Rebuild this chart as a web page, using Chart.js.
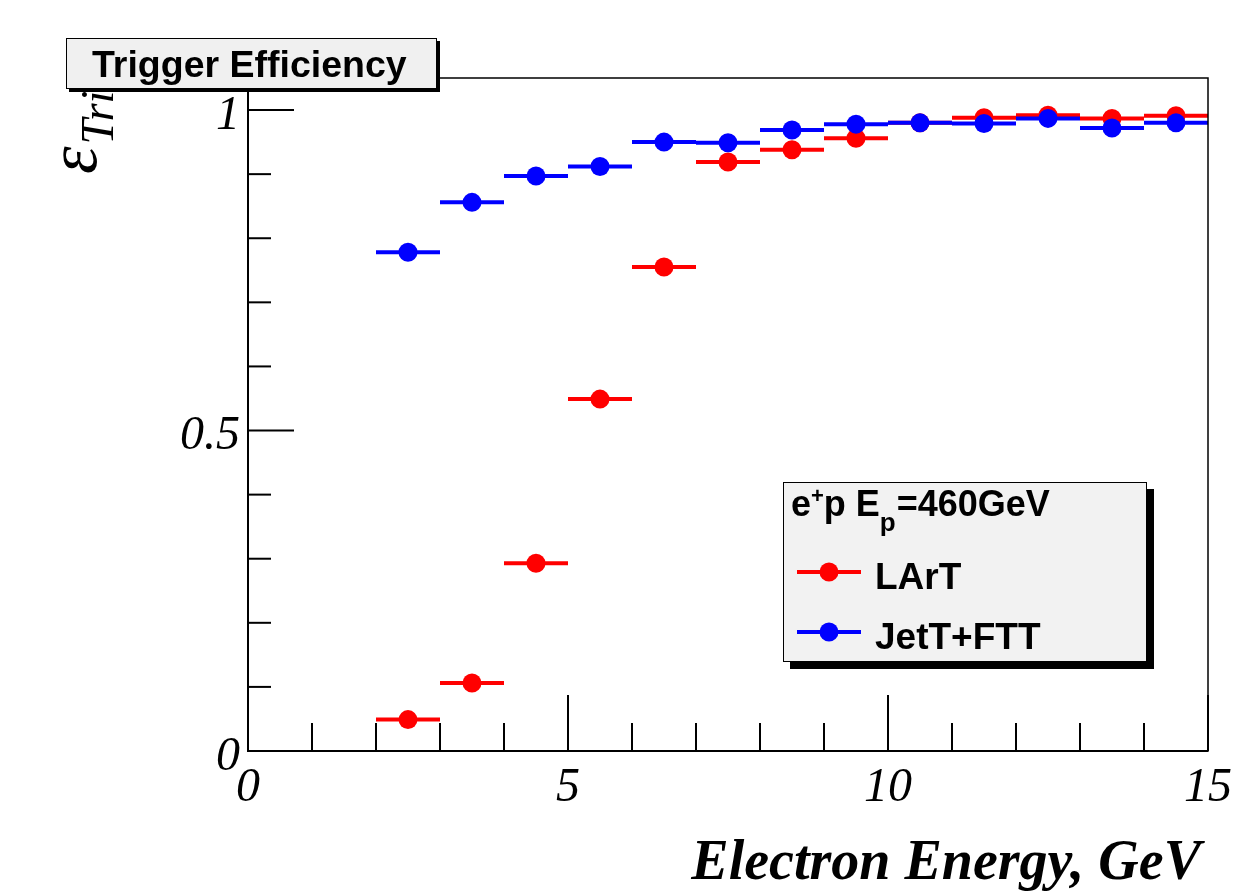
<!DOCTYPE html>
<html>
<head>
<meta charset="utf-8">
<script src="https://cdn.jsdelivr.net/npm/chart.js@4.4.1/dist/chart.umd.min.js"></script>
<style>
  html, body { margin: 0; padding: 0; background: #fff; }
  #wrap { width: 1235px; height: 895px; }
</style>
</head>
<body>
<div id="wrap"><canvas id="effChart" width="1235" height="895"></canvas></div>
<script>
// bin centres (GeV) and half bin width used for the horizontal error bars
const binCenters = [2.5, 3.5, 4.5, 5.5, 6.5, 7.5, 8.5, 9.5, 10.5, 11.5, 12.5, 13.5, 14.5];
const binHalfWidth = 0.5;
// trigger efficiencies
const lartEff = [0.049, 0.106, 0.293, 0.549, 0.755, 0.919, 0.938, 0.956, 0.980, 0.988, 0.992, 0.987, 0.991];
const jetEff  = [0.778, 0.856, 0.897, 0.912, 0.950, 0.949, 0.969, 0.978, 0.980, 0.979, 0.987, 0.972, 0.980];
const seriesNames = ['LArT', 'JetT+FTT'];
const seriesColors = ['#ff0000', '#0000ff'];
const xTickLabels = [0, 5, 10, 15];
const yTickLabels = [0, 0.5, 1];

function pointsOf(vals) {
    return binCenters.map(function (x, i) { return {x: x, y: vals[i]}; });
}
// horizontal error bars as broken line segments (null y breaks the line)
function barsOf(vals) {
    var out = [];
    binCenters.forEach(function (x, i) {
        out.push({x: x - binHalfWidth, y: vals[i]});
        out.push({x: x + binHalfWidth, y: vals[i]});
        out.push({x: x + binHalfWidth, y: null});
    });
    return out;
}

// ROOT style axes: inward ticks, frame, titles, title box and legend
const rootStyle = {
    id: 'rootStyle',
    afterDatasetsDraw: function (chart) {
        const ctx = chart.ctx;
        const xs = chart.scales.x, ys = chart.scales.y;
        const a = chart.chartArea;
        ctx.save();
        ctx.strokeStyle = '#000';
        // frame
        ctx.lineWidth = 1.5;
        ctx.strokeRect(a.left, a.top, a.right - a.left, a.bottom - a.top);
        // axis lines
        ctx.lineWidth = 2;
        ctx.beginPath();
        ctx.moveTo(a.left, a.top); ctx.lineTo(a.left, a.bottom); ctx.lineTo(a.right, a.bottom);
        ctx.stroke();
        // x ticks
        for (var v = 0; v <= 15; v++) {
            var px = xs.getPixelForValue(v);
            var len = (v % 5 === 0) ? 56 : 28;
            ctx.beginPath(); ctx.moveTo(px, a.bottom); ctx.lineTo(px, a.bottom - len); ctx.stroke();
        }
        // y ticks
        for (var i = 0; i <= 10; i++) {
            var py = ys.getPixelForValue(i / 10);
            var l = (i % 5 === 0) ? 46 : 23;
            ctx.beginPath(); ctx.moveTo(a.left, py); ctx.lineTo(a.left + l, py); ctx.stroke();
        }
        ctx.restore();
    },
    afterDraw: function (chart) {
        const ctx = chart.ctx;
        ctx.save();
        // x axis title
        ctx.fillStyle = '#000';
        ctx.font = 'italic bold 56px "Liberation Serif", "DejaVu Serif", serif';
        ctx.textAlign = 'right';
        ctx.textBaseline = 'alphabetic';
        ctx.fillText('Electron Energy, GeV', 1201, 879);

        // y axis title epsilon_Trig (rotated)
        ctx.save();
        ctx.translate(96, 174);
        ctx.rotate(-Math.PI / 2);
        ctx.textAlign = 'left';
        ctx.font = 'italic 70px "Liberation Serif", "DejaVu Serif", serif';
        ctx.fillText('\u03b5', 0, 0);
        var ew = ctx.measureText('\u03b5').width;
        ctx.font = 'italic 46px "Liberation Serif", "DejaVu Serif", serif';
        ctx.fillText('Trig', ew + 2, 17);
        ctx.restore();

        // title box
        ctx.fillStyle = '#000';
        ctx.fillRect(69, 41, 371, 51);
        ctx.fillStyle = '#f0f0f0';
        ctx.fillRect(66, 38, 371, 51);
        ctx.strokeStyle = '#000';
        ctx.lineWidth = 1;
        ctx.strokeRect(66.5, 38.5, 370, 50);
        ctx.fillStyle = '#000';
        ctx.font = 'bold 37.5px "Liberation Sans", Arial, sans-serif';
        ctx.textAlign = 'left';
        ctx.fillText('Trigger Efficiency', 92, 77);

        // legend box
        var lx = 783, ly = 482, lw = 364, lh = 180;
        ctx.fillStyle = '#000';
        ctx.fillRect(lx + 7, ly + 7, lw, lh);
        ctx.fillStyle = '#f2f2f2';
        ctx.fillRect(lx, ly, lw, lh);
        ctx.strokeRect(lx + 0.5, ly + 0.5, lw - 1, lh - 1);
        // header e+p E_p=460GeV
        ctx.fillStyle = '#000';
        var hx = 791, hy = 516;
        var big = 'bold 36px "Liberation Sans", Arial, sans-serif';
        var small = 'bold 22px "Liberation Sans", Arial, sans-serif';
        ctx.font = big; ctx.fillText('e', hx, hy); hx += ctx.measureText('e').width;
        ctx.font = small; ctx.fillText('+', hx, hy - 13); hx += ctx.measureText('+').width;
        ctx.font = big; ctx.fillText('p E', hx, hy); hx += ctx.measureText('p E').width;
        ctx.font = 'bold 26px "Liberation Sans", Arial, sans-serif';
        ctx.fillText('p', hx, hy + 15); hx += ctx.measureText('p').width + 1;
        ctx.font = big; ctx.fillText('=460GeV', hx, hy);
        // entries
        var rows = [572, 632];
        ctx.font = 'bold 37px "Liberation Sans", Arial, sans-serif';
        rows.forEach(function (ry, k) {
            ctx.strokeStyle = seriesColors[k];
            ctx.lineWidth = 4;
            ctx.beginPath(); ctx.moveTo(797, ry); ctx.lineTo(861, ry); ctx.stroke();
            ctx.fillStyle = seriesColors[k];
            ctx.beginPath(); ctx.arc(829, ry, 9.5, 0, Math.PI * 2); ctx.fill();
            ctx.fillStyle = '#000';
            ctx.fillText(seriesNames[k], 875, ry + 17);
        });
        ctx.restore();
    }
};

const chart = new Chart(document.getElementById('effChart'), {
    type: 'scatter',
    data: {
        datasets: [{
            type: 'line', label: seriesNames[1] + ' bars', data: barsOf(jetEff),
            borderColor: seriesColors[1], borderWidth: 4, pointRadius: 0,
            spanGaps: false, borderCapStyle: 'butt', fill: false, order: 1
        }, {
            label: seriesNames[1], data: pointsOf(jetEff),
            backgroundColor: seriesColors[1], borderWidth: 0, pointRadius: 9.5, order: 0
        }, {
            type: 'line', label: seriesNames[0] + ' bars', data: barsOf(lartEff),
            borderColor: seriesColors[0], borderWidth: 4, pointRadius: 0,
            spanGaps: false, borderCapStyle: 'butt', fill: false, order: 3
        }, {
            label: seriesNames[0], data: pointsOf(lartEff),
            backgroundColor: seriesColors[0], borderWidth: 0, pointRadius: 9.5, order: 2
        }]
    },
    options: {
        responsive: false,
        animation: false,
        events: [],
        layout: { padding: { top: 78, right: 27, left: 0, bottom: 0 } },
        plugins: { legend: { display: false }, tooltip: { enabled: false }, title: { display: false } },
        scales: {
            x: {
                type: 'linear', min: 0, max: 15,
                grid: { display: false, drawTicks: false },
                border: { display: false },
                afterFit: function (s) { s.height = 144; s.paddingLeft = 0; s.paddingRight = 0; },
                afterBuildTicks: function (s) { s.ticks = xTickLabels.map(function (v) { return {value: v}; }); },
                ticks: {
                    autoSkip: false, maxRotation: 0, padding: 9, color: '#000',
                    callback: function (v) { return String(v); },
                    font: { family: '"Liberation Serif", serif', style: 'italic', size: 48 }
                }
            },
            y: {
                type: 'linear', min: 0, max: 1.05,
                grid: { display: false, drawTicks: false },
                border: { display: false },
                afterFit: function (s) { s.width = 248; s.paddingTop = 0; s.paddingBottom = 0; },
                afterBuildTicks: function (s) { s.ticks = yTickLabels.map(function (v) { return {value: v}; }); },
                ticks: {
                    autoSkip: false, padding: 8, color: '#000', labelOffset: 6,
                    callback: function (v) { return String(v); },
                    font: { family: '"Liberation Serif", serif', style: 'italic', size: 48 }
                }
            }
        }
    },
    plugins: [rootStyle]
});
</script>
</body>
</html>
